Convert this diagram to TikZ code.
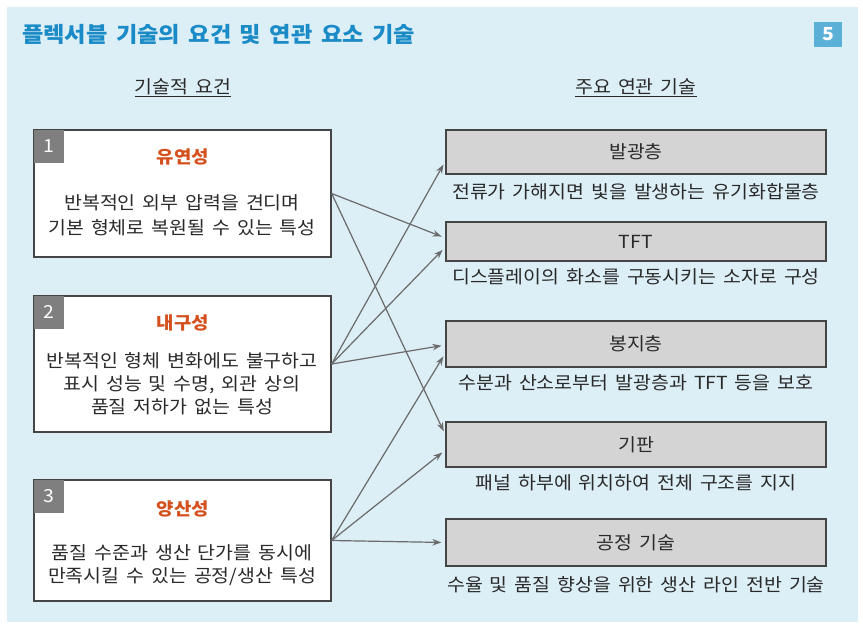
\documentclass[tikz,border=0pt]{standalone}
\usepackage{fontspec}
\setmainfont[FakeStretch=1.08, WordSpace=1.6]{Noto Sans CJK KR}
\usepackage{tikz}
\usetikzlibrary{calc,positioning,arrows.meta}
\definecolor{bgblue}{HTML}{DCEEF6}
\definecolor{titleblue}{HTML}{1A8BC6}
\definecolor{tagblue}{HTML}{5BB0D8}
\definecolor{tagdark}{HTML}{7F7F80}
\definecolor{reqred}{HTML}{D4501C}
\definecolor{inkgray}{HTML}{2A2A2A}
\definecolor{boxline}{HTML}{454545}
\definecolor{techfill}{HTML}{D4D4D4}
\definecolor{connline}{HTML}{6A6A6A}
\tikzset{
reqbox/.style={draw=boxline, fill=white, line width=1.3pt, minimum width=297pt, inner sep=0pt}, % left boxes
numtag/.style={fill=tagdark, text=white, minimum width=30pt, minimum height=33pt, inner sep=0pt,
  font=\fontsize{18}{20}\selectfont},
reqtitle/.style={text=reqred, font=\fontsize{17.5}{20}\selectfont\bfseries, inner sep=0pt},
reqtext/.style={text=inkgray, align=center, inner sep=0pt},
techbox/.style={draw=boxline, fill=techfill, line width=1.2pt, minimum width=380pt, inner sep=0pt,
  text=inkgray, font=\fontsize{18}{20}\selectfont},
techtext/.style={text=inkgray, font=\fontsize{18}{20}\selectfont, inner sep=0pt},
colhead/.style={text=inkgray, font=\fontsize{18}{20}\selectfont, inner sep=0pt},
conn/.style={draw=connline, line width=1.2pt, -{Stealth[length=9pt,width=6.5pt]}, shorten >=4pt},
}

\begin{document}
\begin{tikzpicture}[x=1pt,y=-1pt]
    \useasboundingbox (0,0) rectangle (863,627);
    \fill[bgblue] (7,7) rectangle (858,622);
    % header
    \node[anchor=west, inner sep=0pt, text=titleblue, font=\fontsize{21.5}{26}\selectfont\bfseries]
        (title) at (22,34) {플렉서블 기술의 요건 및 연관 요소 기술};
    \node[fill=tagblue, text=white, minimum width=28pt, minimum height=25pt, inner sep=0pt,
        font=\fontsize{18}{20}\selectfont\bfseries] (page) at (828,34.5) {5};
    \node[colhead] (reqhead) at (183,88) {\underline{기술적 요건}};
    \node[colhead] (techhead) at (636,88) {\underline{주요 연관 기술}};
    % requirements
    \node[reqbox, minimum height=127pt] (b1) at (182.5,193.5) {};
    \node[numtag, anchor=north west] (b1n) at (b1.north west) {1};
    \node[reqtitle] (b1t) at (183,157) {유연성};
    \node[reqtext, font=\fontsize{18}{25}\selectfont] (b1x) at (182,215) {반복적인 외부 압력을 견디며\\기본 형체로 복원될 수 있는 특성};
    \node[reqbox, minimum height=136pt] (b2) at (182.5,364) {};
    \node[numtag, anchor=north west] (b2n) at (b2.north west) {2};
    \node[reqtitle] (b2t) at (183,323) {내구성};
    \node[reqtext, font=\fontsize{18}{23}\selectfont] (b2x) at (182,384) {반복적인 형체 변화에도 불구하고\\표시 성능 및 수명, 외관 상의\\품질 저하가 없는 특성};
    \node[reqbox, minimum height=121pt] (b3) at (182.5,540.5) {};
    \node[numtag, anchor=north west] (b3n) at (b3.north west) {3};
    \node[reqtitle] (b3t) at (183,509) {양산성};
    \node[reqtext, font=\fontsize{18}{23}\selectfont] (b3x) at (182,565) {품질 수준과 생산 단가를 동시에\\만족시킬 수 있는 공정/생산 특성};
    % related technologies
    \node[techbox, minimum height=44pt] (hl) at (636,152) {발광층};
    \node[techtext] (hl-d) at (636,191.5) {전류가 가해지면 빛을 발생하는 유기화합물층};
    \node[techbox, minimum height=39pt] (tft) at (636,241.5) {TFT};
    \node[techtext] (tft-d) at (636,276.5) {디스플레이의 화소를 구동시키는 소자로 구성};
    \node[techbox, minimum height=46pt] (enc) at (636,344) {봉지층};
    \node[techtext] (enc-d) at (636,382.5) {수분과 산소로부터 발광층과 TFT 등을 보호};
    \node[techbox, minimum height=45pt] (sub) at (636,444.5) {기판};
    \node[techtext] (sub-d) at (636,482.5) {패널 하부에 위치하여 전체 구조를 지지};
    \node[techbox, minimum height=47pt] (proc) at (636,542.5) {공정 기술};
    \node[techtext] (proc-d) at (636,585) {수율 및 품질 향상을 위한 생산 라인 전반 기술};
    % links
    \path
    (b1.east) edge[conn] ([yshift=3.5pt]tft.west)
    (b1.east) edge[conn] ([yshift=9.5pt]sub.west)
    (b2.east) edge[conn] ([yshift=-9pt]hl.west)
    (b2.east) edge[conn] ([yshift=-5.5pt]tft.west)
    (b2.east) edge[conn] ([yshift=-1pt]enc.west)
    (b3.east) edge[conn] ([yshift=-9pt]enc.west)
    (b3.east) edge[conn] ([yshift=-5.5pt]sub.west)
    (b3.east) edge[conn] (proc.west);
\end{tikzpicture}
\end{document}
